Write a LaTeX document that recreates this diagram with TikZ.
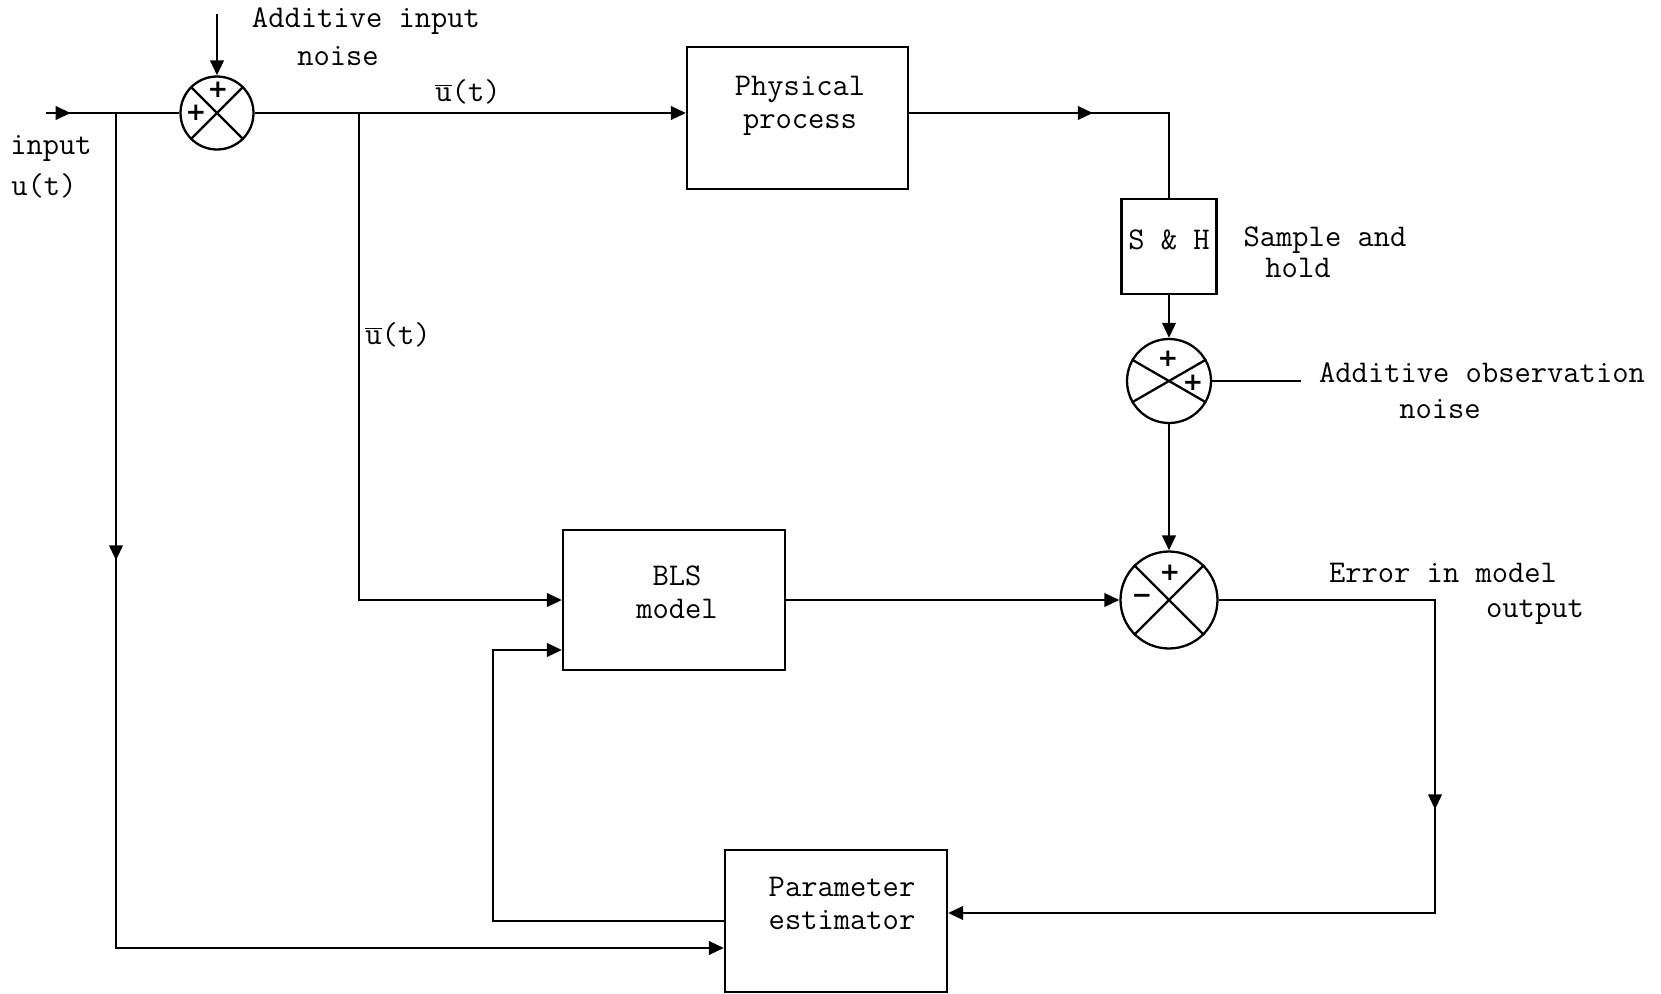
\documentclass[tikz,border=0pt]{standalone}
\usepackage{fontspec}
\newfontfamily\signfont{DejaVu Sans}
\usetikzlibrary{arrows.meta,decorations.markings}
\tikzset{
  >={Triangle[length=0.3cm,width=0.27cm]},
  line/.style={line width=1.3pt},
  blk/.style={draw,line width=1.3pt,rectangle,inner sep=0pt},
  sumj/.style={draw,line width=1.3pt,circle,inner sep=0pt},
  lbl/.style={font=\ttfamily\fontsize{18}{18.8}\selectfont,inner sep=0pt,align=center},
  sgn/.style={font=\signfont\bfseries\fontsize{14}{14}\selectfont,inner sep=0pt},
  tipat/.style={postaction={decorate},decoration={markings,mark=at position #1 with {\arrow{>}}}},
}
\begin{document}
\begin{tikzpicture}[x=0.02cm,y=-0.02cm]
\useasboundingbox (0,0) rectangle (1661,994);

% summing junctions
\node[sumj,minimum size=1.46cm] (s1) at (217,113) {};
\draw[line] (s1.45) -- (s1.225) (s1.135) -- (s1.315);
\node[sgn] (s1a) at (218,90) {+};
\node[sgn] (s1b) at (196,113) {+};

\node[sumj,minimum size=1.68cm] (s2) at (1169,381) {};
\draw[line] (s2.30) -- (s2.210) (s2.150) -- (s2.330);
\node[sgn] (s2a) at (1168,359) {+};
\node[sgn] (s2b) at (1193,383) {+};

\node[sumj,minimum size=1.94cm] (s3) at (1169,600) {};
\draw[line] (s3.45) -- (s3.225) (s3.135) -- (s3.315);
\node[sgn] (s3a) at (1170,573) {+};
\node[sgn] (s3b) at (1142,599) {−};

% blocks
\node[blk,minimum width=4.42cm,minimum height=2.84cm] (pp) at (797.5,118) {};
\node[blk,minimum width=1.9cm,minimum height=1.9cm] (sh) at (1169,246.5) {};
\node[blk,minimum width=4.44cm,minimum height=2.8cm] (bls) at (674,600) {};
\node[blk,minimum width=4.44cm,minimum height=2.84cm] (pe) at (836,921) {};

% texts
\node[lbl] (tpp) at (800,106) {Physical\\process};
\node[lbl] (tsh) at (1169,240) {S \& H};
\node[lbl] (tsa1) at (1325,240) {Sample and};
\node[lbl] (tsa2) at (1298,268) {hold};
\node[lbl] (tobs1) at (1482,373) {Additive observation};
\node[lbl] (tobs2) at (1440,409) {noise};
\node[lbl] (tbls) at (677,592) {BLS\\model};
\node[lbl] (terr1) at (1443,573) {Error in model};
\node[lbl] (terr2) at (1535,612) {output};
\node[lbl] (tpe) at (842,903) {Parameter\\estimator};
\node[lbl] (tain1) at (366,21) {Additive input};
\node[lbl] (tain2) at (338,56) {noise};
\node[lbl] (tu1) at (468,92) {\(\overline{\hbox{u}}\)(t)};
\node[lbl] (tu2) at (398,335) {\(\overline{\hbox{u}}\)(t)};
\node[lbl] (tin1) at (51,149) {input};
\node[lbl] (tin2) at (44,186) {u(t)};

% coordinates
\coordinate (in0) at (46,113);
\coordinate (j1) at (116,113);
\coordinate (j1b) at (116,948);
\coordinate (n0) at (217,14);
\coordinate (j2) at (359,113);
\coordinate (j2b) at (359,600);
\coordinate (k1) at (1169,113);
\coordinate (obs) at (1301,381);
\coordinate (e1) at (1435,600);
\coordinate (e2) at (1435,913);
\coordinate (l1) at (493,921);
\coordinate (l2) at (493,650);

% connectors
\draw[line,tipat=0.185] (in0) -- (s1.west);
\draw[line,->] (n0) -- (s1.north);
\draw[line,->] (s1.east) -- (s1 -| pp.west);
\draw[line,->,tipat=0.31] (j1) -- (j1b) -- (pe.west |- j1b);
\draw[line,->] (j2) -- (j2b) -- (bls.west);
\draw[line,tipat=0.533] (pp.east |- k1) -- (k1) -- (sh.north);
\draw[line,->] (sh.south) -- (s2.north);
\draw[line] (s2.east) -- (obs);
\draw[line,->] (s2.south) -- (s3.north);
\draw[line,->] (bls.east) -- (s3.west);
\draw[line,->,tipat=0.419] (s3.east) -- (e1) -- (e2) -- (pe.east |- e2);
\draw[line,->] (pe.west |- l1) -- (l1) -- (l2) -- (bls.west |- l2);
\end{tikzpicture}
\end{document}
